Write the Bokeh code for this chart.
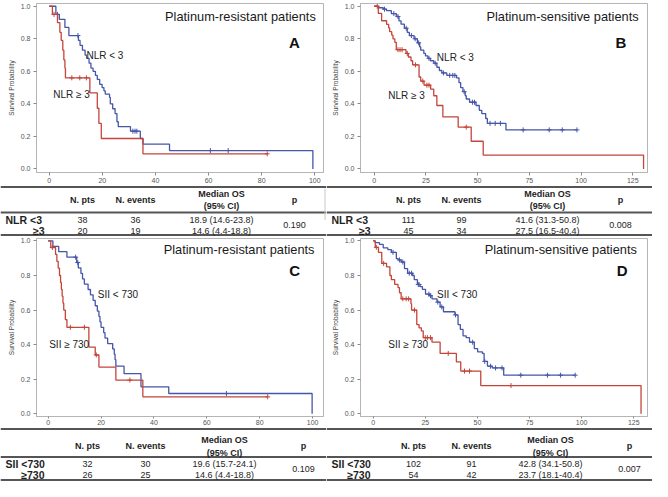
from bokeh.plotting import figure
from bokeh.layouts import column, row
from bokeh.models import Range1d, FixedTicker, Label, PrintfTickFormatter
from bokeh.embed import file_html
from bokeh.resources import INLINE
from bokeh.core.properties import value

FONT = "Liberation Sans"
BLUE = "#4656a8"
RED = "#c4453a"

# ---------------- data ----------------
# Panel A: platinum-resistant, NLR
a_low_t = [0, 2.5, 3.8, 5.9, 7.4, 11.0, 11.6, 12.5, 13.5, 14.1, 15.0, 15.7, 16.5, 17.4, 18.1, 19.0, 19.9,
           20.6, 21.1, 22.7, 23.0, 23.9, 24.8, 25.5, 26.0, 30.6, 34.3, 35.3, 45.3, 99.3]
a_low_s = [1.0, 0.95, 0.92, 0.87, 0.82, 0.79, 0.76, 0.73, 0.70, 0.68, 0.65, 0.62, 0.60, 0.575, 0.55, 0.52, 0.50,
           0.48, 0.46, 0.44, 0.40, 0.37, 0.34, 0.29, 0.26, 0.232, 0.187, 0.153, 0.113, 0.0]
a_low_cens = [3.1, 10.8, 31.5, 32.3, 33.0, 60.7, 67.4]
a_high_t = [0, 1.2, 3.1, 4.0, 4.5, 5.1, 5.5, 5.9, 6.1, 15.3, 18.1, 18.7, 19.6, 35.3, 82.1]
a_high_s = [1.0, 0.95, 0.90, 0.84, 0.79, 0.73, 0.67, 0.62, 0.56, 0.467, 0.373, 0.28, 0.187, 0.093, 0.093]
a_high_cens = [1.8, 8.5, 11.5, 14.0, 82.1]

# Panel B: platinum-sensitive, NLR
b_low_t = [0, 2, 4.4, 6, 8.3, 10.7, 12, 13, 14.6, 16, 17, 19.3, 20.9, 22, 22.5, 24, 24.8, 26, 27.2, 28.8, 30.3,
           31.5, 32.7, 35.1, 39.8, 41.0, 41.8, 42.9, 44.0, 44.5, 46.1, 49.2, 50.8, 52.0, 53.9, 54.7, 63.7, 98.0]
b_low_s = [1.0, 0.991, 0.982, 0.973, 0.955, 0.937, 0.91, 0.89, 0.865, 0.84, 0.82, 0.80, 0.775, 0.75, 0.73, 0.71,
           0.695, 0.68, 0.665, 0.65, 0.625, 0.605, 0.59, 0.575, 0.56, 0.53, 0.50, 0.475, 0.45, 0.43, 0.41, 0.39,
           0.36, 0.34, 0.31, 0.28, 0.24, 0.24]
b_low_cens = [5.0, 9.5, 11.5, 15.5, 18.0, 19.8, 21.5, 26.5, 29.5, 33.5, 36.5, 38.0, 39.0, 43.5, 47.5, 48.5,
              56.0, 58.5, 61.0, 72.0, 84.6, 90.9, 98.0]
b_high_t = [0, 2.0, 3.6, 6.0, 7.0, 7.5, 8.5, 9.1, 10.0, 10.7, 15.4, 16.5, 17.8, 18.6, 21.7, 22.5, 24.1, 27.3,
            28.8, 30.3, 33.2, 40.6, 46.9, 52.7, 130.2]
b_high_s = [1.0, 0.956, 0.911, 0.889, 0.867, 0.844, 0.822, 0.80, 0.778, 0.733, 0.71, 0.688, 0.665, 0.64, 0.565,
            0.54, 0.515, 0.49, 0.45, 0.39, 0.32, 0.257, 0.17, 0.085, 0.0]
b_high_cens = [1.5, 11.5, 12.5, 13.5, 16.0, 20.0, 23.5, 25.5, 26.5, 44.5]

# Panel C: platinum-resistant, SII
c_low_t = [0, 1.8, 4.0, 7.1, 10.8, 11.4, 12.4, 13.0, 13.7, 15.1, 16.0, 17.0, 17.8, 18.6, 19.2, 19.6, 20.0, 21.0,
           21.5, 22.5, 24.4, 25.0, 25.3, 25.6, 28.7, 35.1, 45.6, 99.8]
c_low_s = [1.0, 0.969, 0.938, 0.906, 0.875, 0.844, 0.812, 0.78, 0.75, 0.719, 0.688, 0.656, 0.625, 0.594, 0.563,
           0.531, 0.50, 0.469, 0.438, 0.406, 0.375, 0.344, 0.313, 0.275, 0.232, 0.156, 0.117, 0.0]
c_low_cens = [10.4, 11.2, 67.4]
c_high_t = [0, 1.0, 2.8, 3.3, 3.8, 4.3, 4.7, 5.0, 5.3, 5.6, 5.9, 6.5, 7.1, 15.4, 17.8, 19.2, 25.6, 35.8, 83.0]
c_high_s = [1.0, 0.962, 0.922, 0.882, 0.842, 0.80, 0.76, 0.72, 0.68, 0.64, 0.60, 0.545, 0.50, 0.386, 0.34, 0.27,
            0.195, 0.098, 0.098]
c_high_cens = [1.6, 8.4, 13.7, 18.2, 30.9, 83.0]

# Panel D: platinum-sensitive, SII
d_low_t = [0, 0.9, 3.0, 4.8, 7.0, 8.7, 11.1, 12.0, 13.4, 15.0, 16.5, 18.9, 19.7, 21.2, 22.5, 23.6, 25.1, 27.1,
           28.2, 30.6, 32.1, 33.7, 39.2, 40.7, 41.8, 43.1, 44.6, 46.2, 48.5, 50.1, 52.4, 53.2, 54.8, 57.1, 62.6, 96.9]
d_low_s = [1.0, 0.99, 0.98, 0.96, 0.95, 0.934, 0.897, 0.89, 0.878, 0.84, 0.813, 0.80, 0.776, 0.748, 0.735, 0.72,
           0.692, 0.683, 0.665, 0.646, 0.618, 0.59, 0.572, 0.516, 0.488, 0.451, 0.44, 0.414, 0.377, 0.358, 0.349,
           0.303, 0.275, 0.265, 0.223, 0.223]
d_low_cens = [9.5, 12.6, 14.2, 17.3, 18.4, 21.6, 22.0, 26.7, 27.5, 31.0, 32.9, 39.5, 47.7, 53.5, 56.3, 58.7,
              61.8, 70.8, 83.6, 89.9, 96.9]
d_high_t = [0, 1.0, 2.5, 4.1, 6.4, 8.0, 8.7, 10.3, 11.9, 12.6, 13.4, 18.1, 18.4, 20.9, 22.0, 23.1, 24.0, 28.2,
            32.1, 39.9, 42.0, 51.6, 128.5]
d_high_s = [1.0, 0.963, 0.934, 0.87, 0.85, 0.80, 0.776, 0.748, 0.73, 0.70, 0.665, 0.637, 0.60, 0.516, 0.497,
            0.479, 0.44, 0.414, 0.349, 0.30, 0.247, 0.163, 0.0]
d_high_cens = [1.5, 5.0, 14.2, 15.8, 17.0, 19.8, 25.0, 26.0, 27.5, 36.0, 43.8, 46.2, 66.1]

# Texts
titles = ["Platinum-resistant patients", "Platinum-sensitive patients",
          "Platinum-resistant patients", "Platinum-sensitive patients"]
letters = ["A", "B", "C", "D"]
curve_labels_low = ["NLR < 3", "NLR < 3", "SII < 730", "SII < 730"]
curve_labels_high = ["NLR \u2265 3", "NLR \u2265 3", "SII \u2265 730", "SII \u2265 730"]
x_ticks_resistant = [0, 20, 40, 60, 80, 100]
x_ticks_sensitive = [0, 25, 50, 75, 100, 125]
y_ticks = [0.0, 0.2, 0.4, 0.6, 0.8, 1.0]

table_header = ["N. pts", "N. events", "Median OS", "(95% CI)", "p"]
a_rows = ["NLR <3", "\u22653"]
a_npts = [38, 20]
a_events = [36, 19]
a_median = ["18.9 (14.6-23.8)", "14.6 (4.4-18.8)"]
a_p = "0.190"
b_rows = ["NLR <3", "\u22653"]
b_npts = [111, 45]
b_events = [99, 34]
b_median = ["41.6 (31.3-50.8)", "27.5 (16.5-40.4)"]
b_p = "0.008"
c_rows = ["SII <730", "\u2265730"]
c_npts = [32, 26]
c_events = [30, 25]
c_median = ["19.6 (15.7-24.1)", "14.6 (4.4-18.8)"]
c_p = "0.109"
d_rows = ["SII <730", "\u2265730"]
d_npts = [102, 54]
d_events = [91, 42]
d_median = ["42.8 (34.1-50.8)", "23.7 (18.1-40.4)"]
d_p = "0.007"


def surv_at(ts, ss, t):
    s = ss[0]
    for ti, si in zip(ts, ss):
        if ti <= t:
            s = si
        else:
            break
    return s


def km_fig(w, h, xr, yr, bl, br, bt, bb, xticks, low, high, title, title_pos, letter, letter_pos,
           lab_low, lab_low_pos, lab_high, lab_high_pos, tick_out, standoff):
    p = figure(width=w, height=h, x_range=Range1d(*xr), y_range=Range1d(*yr),
               output_backend="svg", toolbar_location=None,
               min_border_left=bl, min_border_right=br, min_border_top=bt, min_border_bottom=bb)
    p.frame_align = False
    p.xgrid.visible = False
    p.ygrid.visible = False
    p.outline_line_color = "#b5b5b5"
    p.background_fill_color = "white"
    p.border_fill_color = "white"
    for ax in (p.xaxis[0], p.yaxis[0]):
        ax.axis_line_color = "#b5b5b5"
        ax.major_tick_line_color = "#8a8a8a"
        ax.minor_tick_line_color = None
        ax.major_tick_in = 0
        ax.major_tick_out = tick_out
        ax.major_label_text_font = FONT
        ax.major_label_text_font_size = "7px"
        ax.major_label_text_color = "#555555"
    p.xaxis.ticker = FixedTicker(ticks=xticks)
    p.xaxis.major_label_standoff = standoff
    p.yaxis.ticker = FixedTicker(ticks=y_ticks)
    p.yaxis.formatter = PrintfTickFormatter(format="%.1f")
    p.yaxis.major_label_standoff = 3
    p.yaxis.major_tick_out = 3
    p.yaxis.axis_label = "Survival Probability"
    p.yaxis.axis_label_text_font = FONT
    p.yaxis.axis_label_text_font_size = "6.5px"
    p.yaxis.axis_label_text_font_style = "normal"
    p.yaxis.axis_label_text_color = "#444444"
    p.yaxis.axis_label_standoff = 3

    for (ts, ss, cens), col in ((low, BLUE), (high, RED)):
        p.step(ts, ss, mode="after", line_color=col, line_width=1.3)
        p.scatter(cens, [surv_at(ts, ss, c) for c in cens], marker="cross", size=5,
                  line_color=col, line_width=1)

    p.add_layout(Label(x=title_pos[0], y=title_pos[1], text=title, text_font=FONT,
                       text_font_size="12.8px", text_align="right", text_baseline="middle",
                       text_color="#1a1a1a"))
    p.add_layout(Label(x=letter_pos[0], y=letter_pos[1], text=letter, text_font=FONT,
                       text_font_size="15px", text_font_style="bold", text_align="center",
                       text_baseline="middle", text_color="#111111"))
    p.add_layout(Label(x=lab_low_pos[0], y=lab_low_pos[1], text=lab_low, text_font=FONT,
                       text_font_size="10px", text_align="left", text_baseline="middle",
                       text_color="#222222"))
    p.add_layout(Label(x=lab_high_pos[0], y=lab_high_pos[1], text=lab_high, text_font=FONT,
                       text_font_size="10px", text_align="left", text_baseline="middle",
                       text_color="#222222"))
    return p


def table_fig(w, h, rows_, npts, events, median, pval, cols, ys, sep=False):
    t = figure(width=w, height=h, x_range=Range1d(0, w), y_range=Range1d(h, 0),
               output_backend="svg", toolbar_location=None, x_axis_type=None, y_axis_type=None,
               min_border=0, min_border_left=0, min_border_right=0, min_border_top=0, min_border_bottom=0)
    t.frame_align = False
    t.xgrid.visible = False
    t.ygrid.visible = False
    t.outline_line_color = None
    y_top, y_hdr, y_med1, y_med2, y_line2, y_r1, y_r2, y_p, y_bot = ys
    t.segment(x0=[0, 0, 0], x1=[w, w, w], y0=[y_top, y_line2, y_bot], y1=[y_top, y_line2, y_bot],
              line_color="#555555", line_width=2)
    if sep:
        t.segment(x0=[w - 1.5], x1=[w - 1.5], y0=[3], y1=[y_r1], line_color="#c8c8c8", line_width=1)
    c_pts, c_ev, c_med, c_p = cols
    common = dict(text_font=value(FONT), text_color="#1e1e1e", text_baseline=value("middle"))
    # header
    t.text(x=[c_pts, c_ev, c_med, c_med, c_p], y=[y_hdr, y_hdr, y_med1, y_med2, y_hdr],
           text=table_header, text_align=value("center"), text_font_size=value("9px"),
           text_font_style=value("bold"), **common)
    # row labels
    t.text(x=[5], y=[y_r1], text=[rows_[0]], text_align=value("left"), text_font_size=value("10.5px"),
           text_font_style=value("bold"), **common)
    t.text(x=[44], y=[y_r2], text=[rows_[1]], text_align=value("right"), text_font_size=value("10.5px"),
           text_font_style=value("bold"), **common)
    # body
    t.text(x=[c_pts, c_pts, c_ev, c_ev, c_med, c_med, c_p],
           y=[y_r1, y_r2, y_r1, y_r2, y_r1, y_r2, y_p],
           text=[str(npts[0]), str(npts[1]), str(events[0]), str(events[1]), median[0], median[1], pval],
           text_align=value("center"), text_font_size=value("9px"), **common)
    return t


W = 326
TOP_KM_H = 185
TOP_TAB_H = 52
BOT_KM_H = 190
BOT_TAB_H = 54

top_ys = (1.5, 14, 8.5, 20.5, 27, 34.5, 45, 39.5, 49.5)
bot_ys = (1.5, 18, 12, 25, 29.5, 36, 47, 41.5, 52.5)
top_cols = (82, 135, 221, 294)
bot_cols = (87, 145, 224, 303)

figA = km_fig(W, TOP_KM_H, (-4.8, 103.3), (-0.022, 1.017), 36, 3, 3, 13, x_ticks_resistant,
              (a_low_t, a_low_s, a_low_cens), (a_high_t, a_high_s, a_high_cens),
              titles[0], (100.4, 0.94), letters[0], (92.3, 0.78),
              curve_labels_low[0], (14.0, 0.70), curve_labels_high[0], (1.5, 0.455), 3, 2)
figB = km_fig(W, TOP_KM_H, (-6.6, 132.1), (-0.022, 1.017), 34, 5, 3, 13, x_ticks_sensitive,
              (b_low_t, b_low_s, b_low_cens), (b_high_t, b_high_s, b_high_cens),
              titles[1], (127.8, 0.94), letters[1], (119.3, 0.78),
              curve_labels_low[1], (30.3, 0.685), curve_labels_high[1], (6.8, 0.45), 3, 2)
figC = km_fig(W, BOT_KM_H, (-4.4, 104.1), (-0.016, 1.014), 36, 3, 1, 10, x_ticks_resistant,
              (c_low_t, c_low_s, c_low_cens), (c_high_t, c_high_s, c_high_cens),
              titles[2], (100.7, 0.95), letters[2], (93.2, 0.83),
              curve_labels_low[2], (18.8, 0.69), curve_labels_high[2], (0.4, 0.40), 2, 1)
figD = km_fig(W, BOT_KM_H, (-6.1, 131.6), (-0.016, 1.014), 34, 5, 1, 10, x_ticks_sensitive,
              (d_low_t, d_low_s, d_low_cens), (d_high_t, d_high_s, d_high_cens),
              titles[3], (126.5, 0.95), letters[3], (119.5, 0.83),
              curve_labels_low[3], (30.6, 0.69), curve_labels_high[3], (7.2, 0.40), 2, 1)

tabA = table_fig(W, TOP_TAB_H, a_rows, a_npts, a_events, a_median, a_p, top_cols, top_ys, sep=True)
tabB = table_fig(W, TOP_TAB_H, b_rows, b_npts, b_events, b_median, b_p, top_cols, top_ys)
tabC = table_fig(W, BOT_TAB_H, c_rows, c_npts, c_events, c_median, c_p, bot_cols, bot_ys)
tabD = table_fig(W, BOT_TAB_H, d_rows, d_npts, d_events, d_median, d_p, bot_cols, bot_ys)

layout = column(
    row(column(figA, tabA, spacing=0), column(figB, tabB, spacing=0), spacing=0),
    row(column(figC, tabC, spacing=0), column(figD, tabD, spacing=0), spacing=0),
    spacing=0,
)

open("out.html", "w").write(file_html(layout, INLINE))
